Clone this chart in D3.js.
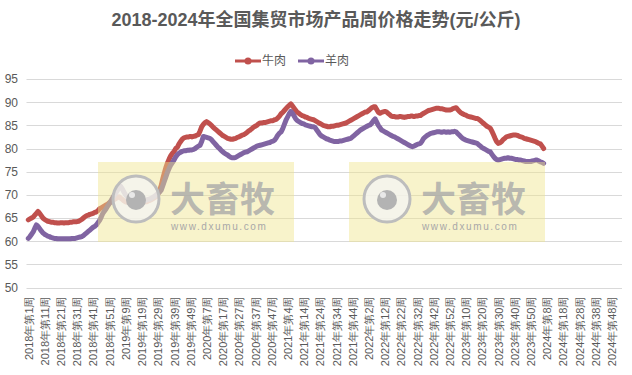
<!DOCTYPE html>
<html>
<head>
<meta charset="utf-8">
<script src="https://cdn.jsdelivr.net/npm/d3@7"></script>
<style>
  body { margin: 0; background: #fff; }
  svg { display: block; font-family: "Liberation Sans", "Noto Sans CJK SC", sans-serif; }
</style>
</head>
<body>
<svg id="chart" width="632" height="375"></svg>
<script>
// years and the number of weeks in each, used to build the weekly categories
const years = [2018, 2019, 2020, 2021, 2022, 2023, 2024];
const weeksInYear = [52, 52, 53, 52, 52, 52, 52];

const tickLabels = [
  "2018年第1周", "2018年第11周", "2018年第21周", "2018年第31周", "2018年第41周", "2018年第51周",
  "2019年第9周", "2019年第19周", "2019年第29周", "2019年第39周", "2019年第49周",
  "2020年第7周", "2020年第17周", "2020年第27周", "2020年第37周", "2020年第47周",
  "2021年第4周", "2021年第14周", "2021年第24周", "2021年第34周", "2021年第44周",
  "2022年第2周", "2022年第12周", "2022年第22周", "2022年第32周", "2022年第42周", "2022年第52周",
  "2023年第10周", "2023年第20周", "2023年第30周", "2023年第40周", "2023年第50周",
  "2024年第8周", "2024年第18周", "2024年第28周", "2024年第38周", "2024年第48周"
];
const yTicks = [50, 55, 60, 65, 70, 75, 80, 85, 90, 95];

// 牛肉 weekly price, from 2018 week 1
const beef = [
  64.6, 64.8, 65.0, 65.2, 65.6, 66.0, 66.4, 66.0, 65.5, 65.0, 64.7, 64.5, 64.3, 64.2, 64.1, 64.1, 64.0, 64.0, 63.9, 63.9,
  64.0, 64.0, 63.9, 64.0, 64.0, 64.0, 64.1, 64.1, 64.2, 64.2, 64.2, 64.3, 64.5, 64.7, 65.0, 65.3, 65.5, 65.6, 65.8, 65.9,
  66.0, 66.2, 66.3, 66.6, 67.0, 67.2, 67.4, 67.6, 67.8, 68.0, 68.3, 68.5,
  // 2019
  68.7, 69.0, 69.2, 69.4, 69.6, 69.3, 69.0, 68.7, 68.5, 68.4, 68.3, 68.2, 68.2, 68.1, 68.2, 68.2, 68.3, 68.3, 68.4, 68.4,
  68.5, 68.5, 68.7, 68.8, 69.0, 69.2, 69.4, 69.6, 70.2, 71.0, 72.0, 73.5, 74.8, 76.0, 77.0, 77.8, 78.5, 79.0, 79.4, 80.0,
  80.3, 81.0, 81.5, 82.0, 82.3, 82.4, 82.5, 82.5, 82.6, 82.5, 82.6, 82.7,
  // 2020
  82.9, 83.0, 83.8, 84.7, 85.2, 85.6, 85.8, 85.6, 85.3, 85.0, 84.6, 84.3, 84.0, 83.7, 83.4, 83.1, 82.8, 82.6, 82.4, 82.2,
  82.1, 82.0, 82.0, 82.1, 82.2, 82.4, 82.5, 82.7, 82.9, 83.0, 83.2, 83.5, 83.8, 84.0, 84.3, 84.6, 84.8, 85.0, 85.3, 85.5,
  85.5, 85.6, 85.6, 85.7, 85.8, 85.9, 86.0, 86.0, 86.2, 86.3, 86.6, 87.0, 87.5,
  // 2021
  87.8, 88.2, 88.6, 89.0, 89.3, 89.6, 89.2, 88.7, 88.2, 87.8, 87.6, 87.3, 87.1, 87.0, 86.8, 86.7, 86.5, 86.4, 86.3, 86.2,
  86.0, 85.8, 85.6, 85.4, 85.2, 85.0, 84.9, 84.8, 84.7, 84.7, 84.8, 84.8, 84.9, 85.0, 85.0, 85.1, 85.2, 85.3, 85.4, 85.5,
  85.7, 85.9, 86.1, 86.3, 86.5, 86.7, 86.9, 87.1, 87.3, 87.5, 87.7, 87.9,
  // 2022
  87.9, 88.2, 88.5, 88.8, 89.0, 89.0, 88.4, 87.8, 87.6, 87.8, 87.9, 88.0, 87.9, 87.6, 87.3, 87.0, 86.9, 86.9, 86.8, 86.8,
  86.9, 86.9, 86.8, 86.7, 86.8, 86.9, 86.9, 87.0, 87.0, 86.9, 87.0, 87.0, 87.1, 87.1, 87.4, 87.6, 87.8, 88.0, 88.2, 88.3,
  88.4, 88.5, 88.6, 88.7, 88.7, 88.6, 88.6, 88.5, 88.4, 88.3, 88.3, 88.3,
  // 2023
  88.4, 88.6, 88.7, 88.8, 88.4, 88.0, 87.7, 87.5, 87.3, 87.2, 87.0, 86.9, 86.8, 86.7, 86.6, 86.5, 86.5, 86.3, 86.0, 85.7,
  85.4, 85.1, 84.8, 84.6, 84.4, 83.8, 83.0, 82.2, 81.5, 81.1, 81.2, 81.5, 81.9, 82.2, 82.5, 82.6, 82.7, 82.8, 82.9, 82.9,
  82.9, 82.8, 82.6, 82.5, 82.4, 82.2, 82.1, 82.0, 81.9, 81.8, 81.7, 81.6,
  // 2024
  81.5, 81.3, 81.1, 81.0, 80.5, 80.0
];

// 羊肉 weekly price, from 2018 week 1
const mutton = [
  60.6, 61.0, 61.5, 62.0, 62.8, 63.5, 63.2, 62.7, 62.2, 61.8, 61.5, 61.3, 61.1, 61.0, 60.8, 60.7, 60.6, 60.6, 60.5, 60.5,
  60.5, 60.5, 60.5, 60.5, 60.5, 60.5, 60.5, 60.6, 60.6, 60.6, 60.7, 60.8, 60.9, 61.0, 61.2, 61.5, 61.8, 62.1, 62.4, 62.7,
  63.0, 63.2, 63.5, 64.0, 64.5, 65.2, 66.0, 66.5, 67.0, 67.6, 68.1, 68.7,
  // 2019
  69.3, 69.9, 70.4, 71.0, 71.5, 71.8, 71.3, 70.6, 70.0, 69.6, 69.0, 68.7, 68.4, 68.3, 68.2, 68.2, 68.3, 68.4, 68.5, 68.6,
  68.7, 68.9, 69.0, 69.1, 69.3, 69.5, 69.7, 70.0, 70.3, 70.6, 71.0, 72.0, 73.0, 74.0, 75.0, 75.8, 76.5, 77.0, 77.6, 78.2,
  78.7, 79.0, 79.2, 79.4, 79.5, 79.5, 79.6, 79.6, 79.7, 79.7, 79.8, 80.0,
  // 2020
  80.3, 80.5, 80.7, 81.5, 82.6, 82.5, 82.4, 82.3, 82.2, 81.9, 81.5, 81.1, 80.7, 80.3, 80.0, 79.6, 79.3, 79.0, 78.8, 78.6,
  78.3, 78.1, 78.0, 78.0, 78.1, 78.3, 78.5, 78.7, 78.9, 79.1, 79.2, 79.3, 79.5, 79.7, 79.9, 80.1, 80.3, 80.5, 80.6, 80.7,
  80.8, 80.9, 81.0, 81.1, 81.2, 81.3, 81.5, 81.6, 81.8, 82.3, 82.9, 83.3, 83.6,
  // 2021
  84.3, 85.2, 86.1, 86.8, 87.5, 88.0, 87.6, 87.0, 86.4, 86.0, 85.8, 85.6, 85.4, 85.3, 85.1, 85.0, 84.9, 84.8, 84.7, 84.7,
  84.5, 84.0, 83.5, 83.0, 82.7, 82.5, 82.3, 82.1, 82.0, 81.8, 81.7, 81.6, 81.5, 81.5, 81.5, 81.6, 81.6, 81.7, 81.8, 81.9,
  82.0, 82.1, 82.2, 82.5, 82.8, 83.1, 83.4, 83.7, 84.0, 84.2, 84.4, 84.6,
  // 2022
  84.8, 85.0, 85.1, 85.5, 86.0, 86.4, 85.7, 85.0, 84.5, 84.0, 83.8, 83.6, 83.4, 83.2, 83.0, 82.8, 82.6, 82.5, 82.3, 82.1,
  81.9, 81.7, 81.5, 81.3, 81.1, 80.9, 80.7, 80.5, 80.4, 80.5, 80.7, 80.9, 81.0, 81.1, 81.6, 82.2, 82.5, 82.8, 83.0, 83.2,
  83.3, 83.4, 83.5, 83.6, 83.6, 83.6, 83.5, 83.6, 83.6, 83.5, 83.6, 83.5,
  // 2023
  83.6, 83.6, 83.7, 83.6, 83.2, 82.9, 82.5, 82.2, 82.0, 81.8, 81.7, 81.6, 81.5, 81.4, 81.3, 81.2, 81.1, 80.8, 80.5, 80.2,
  80.0, 79.8, 79.6, 79.4, 79.3, 78.8, 78.3, 77.9, 77.6, 77.5, 77.6, 77.7, 77.8, 77.9, 77.9, 78.0, 77.9, 77.9, 77.8, 77.7,
  77.6, 77.6, 77.5, 77.5, 77.4, 77.3, 77.2, 77.2, 77.2, 77.2, 77.3, 77.4,
  // 2024
  77.5, 77.5, 77.3, 77.1, 77.0, 76.8
];

const seriesNames = ["牛肉", "羊肉"];
const seriesColors = ["#c0504d", "#8064a2"];

// weekly categories
const categories = [];
years.forEach((y, k) => {
  for (let w = 1; w <= weeksInYear[k]; w++) categories.push(y + "年第" + w + "周");
});

const svg = d3.select("#chart");
const plot = {left: 27.5, right: 619, top: 79, bottom: 287.5};
const textColor = "#595959";

const x = d3.scalePoint().domain(categories).range([plot.left, plot.right]).padding(0.5);
const y = d3.scaleLinear().domain([50, 95]).range([plot.bottom, plot.top]);

// title
svg.append("text")
   .attr("x", 316)
   .attr("y", 26)
   .attr("text-anchor", "middle")
   .style("font-size", "18px")
   .style("font-weight", "bold")
   .style("fill", textColor)
   .text("2018-2024年全国集贸市场产品周价格走势(元/公斤)");

// gridlines
svg.append("g")
   .selectAll("line")
   .data(yTicks)
   .join("line")
   .attr("x1", plot.left - 1)
   .attr("x2", plot.right + 3)
   .attr("y1", d => Math.round(y(d)) + 0.5)
   .attr("y2", d => Math.round(y(d)) + 0.5)
   .attr("stroke", "#d9d9d9")
   .attr("stroke-width", 1);

// y axis
const yAxis = svg.append("g")
   .attr("transform", "translate(18,0)")
   .call(d3.axisLeft(y).tickValues(yTicks).tickSize(0).tickPadding(0));
yAxis.select(".domain").remove();
yAxis.selectAll("text")
   .style("font-size", "12px")
   .style("font-family", "Liberation Sans, sans-serif")
   .style("fill", textColor);

// x axis labels
const xAxis = svg.append("g")
   .attr("transform", "translate(0," + plot.bottom + ")")
   .call(d3.axisBottom(x).tickValues(tickLabels).tickSize(0));
xAxis.select(".domain").remove();
xAxis.selectAll("text")
   .attr("transform", "rotate(-90)")
   .attr("text-anchor", "end")
   .attr("x", -9)
   .attr("y", 0)
   .attr("dy", "0.35em")
   .style("font-size", "11px")
   .style("fill", textColor);

// lines
const line = d3.line()
   .x((d, i) => x(categories[i]))
   .y(d => y(d));

[beef, mutton].forEach((s, k) => {
  svg.append("path")
     .datum(s)
     .attr("fill", "none")
     .attr("stroke", seriesColors[k])
     .attr("stroke-width", 5)
     .attr("stroke-linejoin", "round")
     .attr("stroke-linecap", "round")
     .attr("d", line);
});

// legend
const legend = svg.append("g").attr("transform", "translate(235,61)");
seriesNames.forEach((name, k) => {
  const g = legend.append("g").attr("transform", "translate(" + (k * 63) + ",0)");
  g.append("line")
   .attr("x1", 0).attr("x2", 26)
   .attr("stroke", seriesColors[k])
   .attr("stroke-width", 3);
  g.append("circle")
   .attr("cx", 13).attr("r", 3.5)
   .attr("fill", seriesColors[k]);
  g.append("text")
   .attr("x", 27)
   .attr("dy", "0.35em")
   .style("font-size", "12px")
   .style("fill", textColor)
   .text(name);
});

// watermarks
[98, 349].forEach(left => {
  const wm = svg.append("g").attr("transform", "translate(" + left + ",162)");
  wm.append("rect")
    .attr("width", 196).attr("height", 80)
    .attr("fill", "rgb(240,228,140)")
    .attr("opacity", 0.45);
  wm.append("circle")
    .attr("cx", 38).attr("cy", 37).attr("r", 23)
    .attr("fill", "#f4f4f4").attr("fill-opacity", 0.75)
    .attr("stroke", "#bdbdbd").attr("stroke-width", 3);
  wm.append("circle")
    .attr("cx", 38).attr("cy", 38).attr("r", 10)
    .attr("fill", "#b3b3b3");
  wm.append("circle")
    .attr("cx", 34).attr("cy", 33).attr("r", 3)
    .attr("fill", "#e8e8e8");
  wm.append("text")
    .attr("x", 72).attr("y", 50)
    .style("font-size", "35px")
    .style("font-weight", "bold")
    .style("fill", "#a8a8a8")
    .style("fill-opacity", 0.8)
    .text("大畜牧");
  wm.append("text")
    .attr("x", 73).attr("y", 68)
    .style("font-size", "10px")
    .style("letter-spacing", "1.6px")
    .style("fill", "#a8a8a8")
    .text("www.dxumu.com");
});
</script>
</body>
</html>
